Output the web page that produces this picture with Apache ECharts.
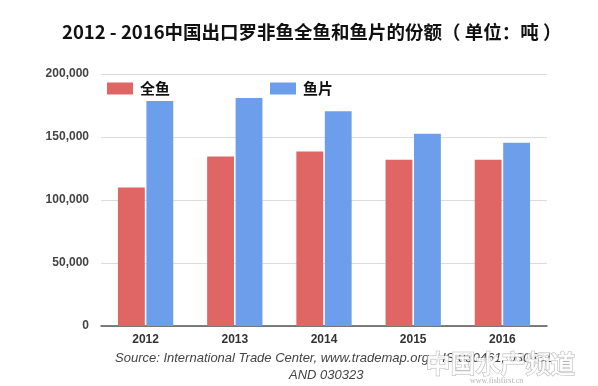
<!DOCTYPE html>
<html><head><meta charset="utf-8">
<script src="https://cdn.jsdelivr.net/npm/echarts@6/dist/echarts.min.js"></script>
<style>html,body{margin:0;padding:0;background:#fff}#c{width:598px;height:386px}</style>
</head><body><div id="c"></div>
<script>
const titleText = '2012 - 2016中国出口罗非鱼全鱼和鱼片的份额（ 单位：吨 ）';
const categories = ['2012', '2013', '2014', '2015', '2016'];
const seriesNames = ['全鱼', '鱼片'];
const wholeFish = [110000, 134500, 138500, 132000, 132000];
const fillets = [178500, 181000, 170500, 152500, 145500];
const yTicks = [0, 50000, 100000, 150000, 200000];
const sourceLine1 = 'Source: International Trade Center, www.trademap.org, HS 030461, 030431';
const sourceLine2 = 'AND 030323';

const chart = echarts.init(document.getElementById('c'), null, {renderer: 'canvas'});
const cjk = '"Noto Sans CJK SC", "Noto Sans", sans-serif';
chart.setOption({
  backgroundColor: '#fff',
  animation: false,
  title: {
    text: titleText, left: 57, top: 18,
    textStyle: {fontFamily: cjk, fontSize: 18.5, fontWeight: 'bold', color: '#111'}
  },
  legend: {
    left: 102, top: 76, itemWidth: 26, itemHeight: 12, itemGap: 100,
    icon: 'rect',
    textStyle: {fontFamily: cjk, fontSize: 15, fontWeight: 'bold', color: '#111', padding: [0, 0, 0, 2]},
    data: seriesNames
  },
  grid: {left: 101, right: 51, top: 74, bottom: 60, containLabel: false},
  xAxis: {
    type: 'category', data: categories,
    axisLine: {lineStyle: {color: '#555', width: 1.5}},
    axisTick: {show: false},
    axisLabel: {fontFamily: 'Arial, "Liberation Sans", sans-serif', fontWeight: 'bold', fontSize: 12, color: '#333', margin: 8}
  },
  yAxis: {
    type: 'value', min: yTicks[0], max: yTicks[yTicks.length - 1], interval: yTicks[1] - yTicks[0],
    axisLine: {show: false}, axisTick: {show: false},
    splitLine: {lineStyle: {color: '#dcdcdc', width: 1.2}},
    axisLabel: {
      fontFamily: 'Arial, "Liberation Sans", sans-serif', fontWeight: 'bold', fontSize: 12, color: '#444', margin: 12,
      formatter: v => v.toLocaleString('en-US')
    }
  },
  series: [
    {name: seriesNames[0], type: 'bar', data: wholeFish, itemStyle: {color: '#e06666'}, barGap: '6%', barCategoryGap: '38%'},
    {name: seriesNames[1], type: 'bar', data: fillets, itemStyle: {color: '#6d9eeb'}}
  ],
  graphic: [
    {type: 'text', left: 115, top: 352, style: {text: sourceLine1, font: 'italic 13px Arial, "Liberation Sans", sans-serif', fill: '#444'}},
    {type: 'text', left: 289, top: 369, style: {text: sourceLine2, font: 'italic 13px Arial, "Liberation Sans", sans-serif', fill: '#444'}},
    {type: 'text', left: 425, top: 350, style: {text: '中国水产频道', font: 'bold 25px "Noto Sans CJK SC", sans-serif', fill: 'rgba(255,255,255,0.85)', stroke: 'rgba(150,150,150,0.7)', lineWidth: 1}},
    {type: 'text', left: 470, top: 377, style: {text: 'www.fishfirst.cn', font: '8px serif', fill: 'rgba(150,150,150,0.7)'}}
  ]
});
</script></body></html>
